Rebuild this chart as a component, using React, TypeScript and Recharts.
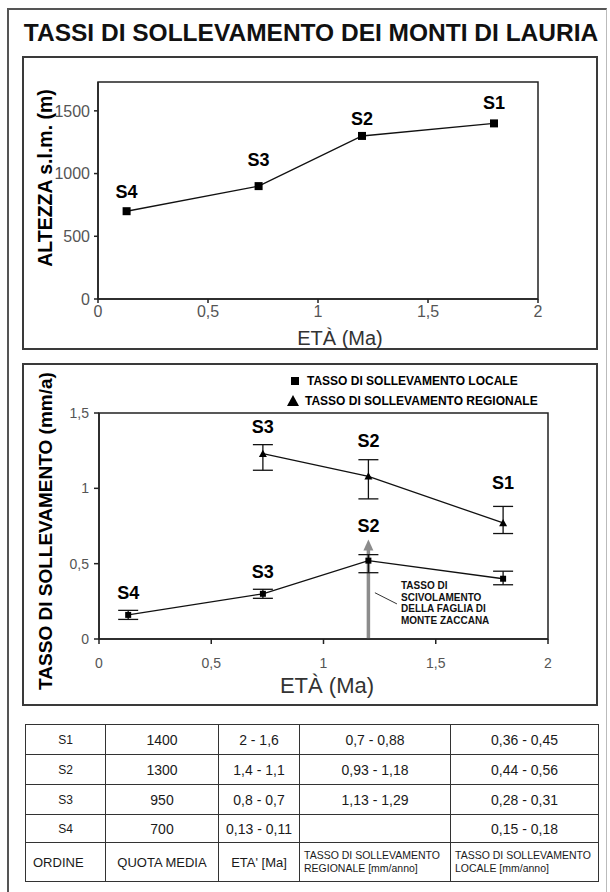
import React from 'react';
import { LineChart, Line, XAxis, YAxis, ErrorBar, ReferenceArea, ReferenceLine, LabelList } from 'recharts';

const FONT = '"Liberation Sans", Arial, Helvetica, sans-serif';

// ---------- data ----------
const sites = ['S4', 'S3', 'S2', 'S1'];
const ages = [0.13, 0.73, 1.2, 1.8];
const altitudes = [700, 900, 1300, 1400];
const altTicks = [0, 500, 1000, 1500];
const ageTicks = [0, 0.5, 1, 1.5, 2];
const rateTicks = [0, 0.5, 1, 1.5];

const localRate = [0.16, 0.3, 0.52, 0.4];
const localLow = [0.13, 0.27, 0.44, 0.36];
const localHigh = [0.19, 0.33, 0.56, 0.45];
const localLabels = ['S4', 'S3', 'S2', ''];

const regionalSites = ['S3', 'S2', 'S1'];
const regionalAges = [0.73, 1.2, 1.8];
const regionalRate = [1.23, 1.08, 0.77];
const regionalLow = [1.12, 0.93, 0.7];
const regionalHigh = [1.29, 1.19, 0.88];

const faultArrowAge = 1.2;
const faultArrowTop = 0.66;
const leaderStart = { x: 1.229, y: 0.307 };
const leaderEnd = { x: 1.327, y: 0.233 };
const annotationLines = ['TASSO DI', 'SCIVOLAMENTO', 'DELLA FAGLIA DI', 'MONTE ZACCANA'];

const legendItems = ['TASSO DI SOLLEVAMENTO LOCALE', 'TASSO DI SOLLEVAMENTO REGIONALE'];

const tableRows = [
  ['S1', '1400', '2 - 1,6', '0,7 - 0,88', '0,36 - 0,45'],
  ['S2', '1300', '1,4 - 1,1', '0,93 - 1,18', '0,44 - 0,56'],
  ['S3', '950', '0,8 - 0,7', '1,13 - 1,29', '0,28 - 0,31'],
  ['S4', '700', '0,13 - 0,11', '', '0,15 - 0,18'],
];
const tableHeader = ['ORDINE', 'QUOTA MEDIA', "ETA' [Ma]", ['TASSO DI SOLLEVAMENTO', 'REGIONALE [mm/anno]'], ['TASSO DI SOLLEVAMENTO', 'LOCALE [mm/anno]']];

// label offsets (pixels above point)
const altLabelOffsets = [19, 26, 17, 20];
const localLabelOffsets = [22, 22, 35, 0];
const regionalLabelOffsets = [27, 35, 40];

// ---------- derived tables ----------
const altData = sites.map((s, i) => ({ site: s, age: ages[i], alt: altitudes[i] }));
const localData = sites.map((s, i) => ({
  site: localLabels[i],
  age: ages[i],
  rate: localRate[i],
  err: [localRate[i] - localLow[i], localHigh[i] - localRate[i]],
}));
const regionalData = regionalSites.map((s, i) => ({
  site: s,
  age: regionalAges[i],
  rate: regionalRate[i],
  err: [regionalRate[i] - regionalLow[i], regionalHigh[i] - regionalRate[i]],
}));

const fmt = (v: number) => String(v).replace('.', ',');

const SquareDot = (size: number) => (props: any) => {
  const { cx, cy, index } = props;
  if (cx == null || cy == null) return <g key={index} />;
  return <rect key={index} x={cx - size / 2} y={cy - size / 2} width={size} height={size} fill="#000" />;
};
const TriangleDot = (props: any) => {
  const { cx, cy, index } = props;
  if (cx == null || cy == null) return <g key={index} />;
  const s = 4;
  return <polygon key={index} points={`${cx},${cy - s} ${cx - s},${cy + s * 0.8} ${cx + s},${cy + s * 0.8}`} fill="#000" />;
};

const makeLabel = (offsets: number[]) => (p: any) => {
  const { x, y, index, value } = p;
  if (!value) return null;
  return (
    <text key={index} x={x} y={y - offsets[index]} textAnchor="middle" dominantBaseline="central"
      fontFamily={FONT} fontWeight="bold" fontSize={18} fill="#000">{value}</text>
  );
};

const ArrowShape = (props: any) => {
  const { x1, y1, x2, y2 } = props;
  const bottom = Math.max(y1, y2);
  const top = Math.min(y1, y2);
  const x = x1;
  return (
    <g>
      <line x1={x} y1={bottom} x2={x} y2={top + 9} stroke="#8c8c8c" strokeWidth={3.5} />
      <polygon points={`${x},${top} ${x - 5},${top + 11} ${x + 5},${top + 11}`} fill="#8c8c8c" />
    </g>
  );
};

const axisLine = { stroke: '#222', strokeWidth: 1.5 };
const tickLine = { stroke: '#222', strokeWidth: 1.5 };

function Chart1() {
  return (
    <div style={{ position: 'absolute', left: 0, top: 0 }}>
      <LineChart width={610} height={360} data={altData} margin={{ top: 82, right: 72, left: 38, bottom: 31 }}>
        <XAxis type="number" dataKey="age" domain={[0, 2]} ticks={ageTicks} tickFormatter={fmt} allowDataOverflow
          height={30} tickSize={4} tickMargin={3} axisLine={axisLine} tickLine={tickLine}
          tick={{ fill: '#555', fontSize: 16, fontFamily: FONT }}
          label={() => (
            <text x={340} y={338} textAnchor="middle" dominantBaseline="central" fontFamily={FONT} fontSize={20} fill="#333">ETÀ (Ma)</text>
          )} />
        <YAxis type="number" domain={[0, 1730]} ticks={altTicks} allowDataOverflow width={60}
          tickSize={4} tickMargin={4} axisLine={axisLine} tickLine={tickLine}
          tick={{ fill: '#555', fontSize: 16, fontFamily: FONT }}
          label={() => (
            <text x={45} y={178} transform="rotate(-90, 45, 178)" textAnchor="middle" dominantBaseline="central"
              fontFamily={FONT} fontSize={19.5} fontWeight="bold" fill="#000">ALTEZZA s.l.m. (m)</text>
          )} />
        <ReferenceArea x1={0} x2={2} y1={0} y2={1730} fill="none" stroke="#222" strokeWidth={1.5} />
        <Line dataKey="alt" stroke="#111" strokeWidth={1.4} dot={SquareDot(8)} isAnimationActive={false}>
          <LabelList dataKey="site" content={makeLabel(altLabelOffsets)} />
        </Line>
      </LineChart>
    </div>
  );
}

function Chart2() {
  return (
    <div style={{ position: 'absolute', left: 0, top: 0 }}>
      <LineChart width={610} height={720} margin={{ top: 413, right: 62, left: 39, bottom: 41 }}>
        <XAxis type="number" dataKey="age" domain={[0, 2]} ticks={ageTicks} tickFormatter={fmt} allowDataOverflow
          height={40} tickSize={5} tickMargin={14} axisLine={axisLine} tickLine={tickLine}
          tick={{ fill: '#555', fontSize: 14, fontFamily: FONT }}
          label={() => (
            <text x={327} y={685} textAnchor="middle" dominantBaseline="central" fontFamily={FONT} fontSize={22} fill="#333">ETÀ (Ma)</text>
          )} />
        <YAxis type="number" domain={[0, 1.5]} ticks={rateTicks} tickFormatter={fmt} allowDataOverflow width={60}
          tickSize={5} tickMargin={5} axisLine={axisLine} tickLine={tickLine}
          tick={{ fill: '#555', fontSize: 14, fontFamily: FONT }}
          label={() => (
            <text x={45} y={531} transform="rotate(-90, 45, 531)" textAnchor="middle" dominantBaseline="central"
              fontFamily={FONT} fontSize={19} fontWeight="bold" fill="#000">TASSO DI SOLLEVAMENTO (mm/a)</text>
          )} />
        <ReferenceArea x1={0} x2={2} y1={0} y2={1.5} fill="none" stroke="#222" strokeWidth={1.5} />
        <ReferenceLine segment={[{ x: faultArrowAge, y: 0 }, { x: faultArrowAge, y: faultArrowTop }]} shape={ArrowShape} />
        <ReferenceLine segment={[leaderStart, leaderEnd]} stroke="#333" strokeWidth={1} />
        <Line data={regionalData} dataKey="rate" stroke="#111" strokeWidth={1.3} dot={TriangleDot} isAnimationActive={false}>
          <ErrorBar dataKey="err" width={10} stroke="#111" strokeWidth={1.3} direction="y" />
          <LabelList dataKey="site" content={makeLabel(regionalLabelOffsets)} />
        </Line>
        <Line data={localData} dataKey="rate" stroke="#111" strokeWidth={1.3} dot={SquareDot(6)} isAnimationActive={false}>
          <ErrorBar dataKey="err" width={10} stroke="#111" strokeWidth={1.3} direction="y" />
          <LabelList dataKey="site" content={makeLabel(localLabelOffsets)} />
        </Line>
      </LineChart>
    </div>
  );
}

function Legend2() {
  return (
    <div style={{ position: 'absolute', left: 286, top: 372, fontFamily: FONT, fontSize: 12, fontWeight: 'bold', color: '#000' }}>
      <div style={{ display: 'flex', alignItems: 'center', height: 18 }}>
        <span style={{ display: 'inline-block', width: 8, height: 8, background: '#000', marginLeft: 5, marginRight: 8 }} />
        <span>{legendItems[0]}</span>
      </div>
      <div style={{ display: 'flex', alignItems: 'center', height: 22 }}>
        <svg width={14} height={12} style={{ marginRight: 5 }}>
          <polygon points="7,0 1,11 13,11" fill="#000" />
        </svg>
        <span>{legendItems[1]}</span>
      </div>
    </div>
  );
}

function Annotation() {
  return (
    <div style={{ position: 'absolute', left: 401, top: 580, fontFamily: FONT, fontSize: 10, fontWeight: 'bold', lineHeight: '11.5px', color: '#111' }}>
      {annotationLines.map((l, i) => <div key={i}>{l}</div>)}
    </div>
  );
}

function DataTable() {
  const colW = [80, 113, 81, 151, 148];
  const rowH = [30, 30, 30, 28];
  const cell: React.CSSProperties = { border: '1.5px solid #333', padding: 0, textAlign: 'center', color: '#1a1a1a' };
  return (
    <table style={{ position: 'absolute', left: 25, top: 724, borderCollapse: 'collapse', tableLayout: 'fixed', width: 573, fontFamily: FONT }}>
      <colgroup>{colW.map((w, i) => <col key={i} style={{ width: w }} />)}</colgroup>
      <tbody>
        {tableRows.map((r, ri) => (
          <tr key={ri} style={{ height: rowH[ri] }}>
            {r.map((c, ci) => (
              <td key={ci} style={{ ...cell, fontSize: ci === 0 ? 12 : 14 }}>{c}</td>
            ))}
          </tr>
        ))}
        <tr style={{ height: 39 }}>
          {tableHeader.map((h, ci) => (
            <td key={ci} style={{
              ...cell,
              fontSize: Array.isArray(h) ? 10.5 : 13,
              textAlign: ci === 0 || Array.isArray(h) ? 'left' : 'center',
              paddingLeft: ci === 0 ? 7 : Array.isArray(h) ? 4 : 0,
              lineHeight: Array.isArray(h) ? '13px' : undefined,
            }}>
              {Array.isArray(h) ? h.map((l, i) => <div key={i} style={{ whiteSpace: 'nowrap' }}>{l}</div>) : h}
            </td>
          ))}
        </tr>
      </tbody>
    </table>
  );
}

export default function App() {
  return (
    <div style={{ position: 'absolute', left: 0, top: 0, width: 610, height: 892, background: '#fff', overflow: 'hidden', fontFamily: FONT }}>
      <div style={{ position: 'absolute', left: 7, top: 8, width: 600, height: 900, boxSizing: 'border-box', borderLeft: '2px solid #555', borderTop: '2px solid #555', borderRight: '1px solid #bbb' }} />
      <div style={{ position: 'absolute', left: 14, top: 18, width: 594, textAlign: 'center', fontSize: 24.5, fontWeight: 'bold', color: '#111', lineHeight: '30px', whiteSpace: 'nowrap' }}>
        TASSI DI SOLLEVAMENTO DEI MONTI DI LAURIA
      </div>
      <div style={{ position: 'absolute', left: 22, top: 56, width: 576, height: 294, boxSizing: 'border-box', border: '2px solid #3a3a3a' }} />
      <div style={{ position: 'absolute', left: 22, top: 363, width: 576, height: 343, boxSizing: 'border-box', border: '2px solid #3a3a3a' }} />
      <Chart1 />
      <Chart2 />
      <Legend2 />
      <Annotation />
      <DataTable />
    </div>
  );
}
